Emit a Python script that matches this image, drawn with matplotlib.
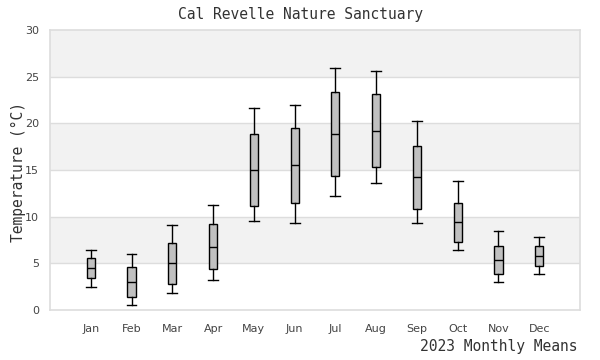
import matplotlib
matplotlib.use("Agg")
import matplotlib.pyplot as plt

months = ["Jan", "Feb", "Mar", "Apr", "May", "Jun", "Jul", "Aug", "Sep", "Oct", "Nov", "Dec"]
whisker_low = [2.43, 0.5, 1.82, 3.18, 9.54, 9.29, 12.18, 13.57, 9.29, 6.39, 2.96, 3.82]
q1 = [3.4, 1.39, 2.75, 4.36, 11.11, 11.43, 14.32, 15.29, 10.79, 7.25, 3.82, 4.68]
median = [4.5, 2.96, 5.0, 6.71, 14.96, 15.54, 18.82, 19.14, 14.21, 9.39, 5.32, 5.75]
q3 = [5.54, 4.6, 7.14, 9.18, 18.82, 19.46, 23.32, 23.11, 17.54, 11.43, 6.82, 6.82]
whisker_high = [6.4, 5.96, 9.07, 11.21, 21.6, 21.93, 25.89, 25.57, 20.21, 13.79, 8.43, 7.79]

title = "Cal Revelle Nature Sanctuary"
ylabel = "Temperature (°C)"
note = "2023 Monthly Means"

fig = plt.figure(figsize=(6, 3.6), dpi=100)
ax = fig.add_axes([50/600, 50/360, 530/600, 280/360])

# alternating bands
for lo in range(0, 30, 5):
    if (lo // 5) % 2 == 1:
        ax.axhspan(lo, lo + 5, color="#f2f2f2", zorder=0, lw=0)
for y in range(5, 30, 5):
    ax.axhline(y, color="#dddddd", lw=1, zorder=0.5)

stats = []
for i, m in enumerate(months):
    stats.append(dict(label=m, whislo=whisker_low[i], q1=q1[i], med=median[i],
                      q3=q3[i], whishi=whisker_high[i], fliers=[]))

positions = list(range(1, len(months) + 1))
ax.bxp(stats, positions=positions, widths=0.2, patch_artist=True, showfliers=False,
       boxprops=dict(facecolor="#c0c0c0", edgecolor="black", linewidth=1.0),
       medianprops=dict(color="black", linewidth=1.0),
       whiskerprops=dict(color="black", linewidth=1.0),
       capprops=dict(color="black", linewidth=1.0),
       capwidths=0.24, zorder=3)

ax.set_xlim(0, 13)
ax.set_ylim(0, 30)
ax.set_yticks(range(0, 31, 5))
ax.set_xticks(positions)
ax.set_xticklabels(months)
ax.tick_params(axis="both", length=0, labelsize=8, colors="#333333", labelcolor="#444444")
ax.tick_params(axis="y", pad=8)
ax.tick_params(axis="x", pad=10)
for s in ax.spines.values():
    s.set_color("#dddddd")
    s.set_linewidth(1.2)

mono = "DejaVu Sans Mono"
fig.text(0.5, 1 - 14/360, title, ha="center", va="center", family=mono, fontsize=10.5, color="#333333")
fig.text(18/600, 1 - 172/360, ylabel, ha="center", va="center", rotation=90, family=mono, fontsize=10.5, color="#333333")
fig.text(578/600, 1 - 347/360, note, ha="right", va="center", family=mono, fontsize=10.5, color="#333333")

fig.savefig("out.png", dpi=100)
